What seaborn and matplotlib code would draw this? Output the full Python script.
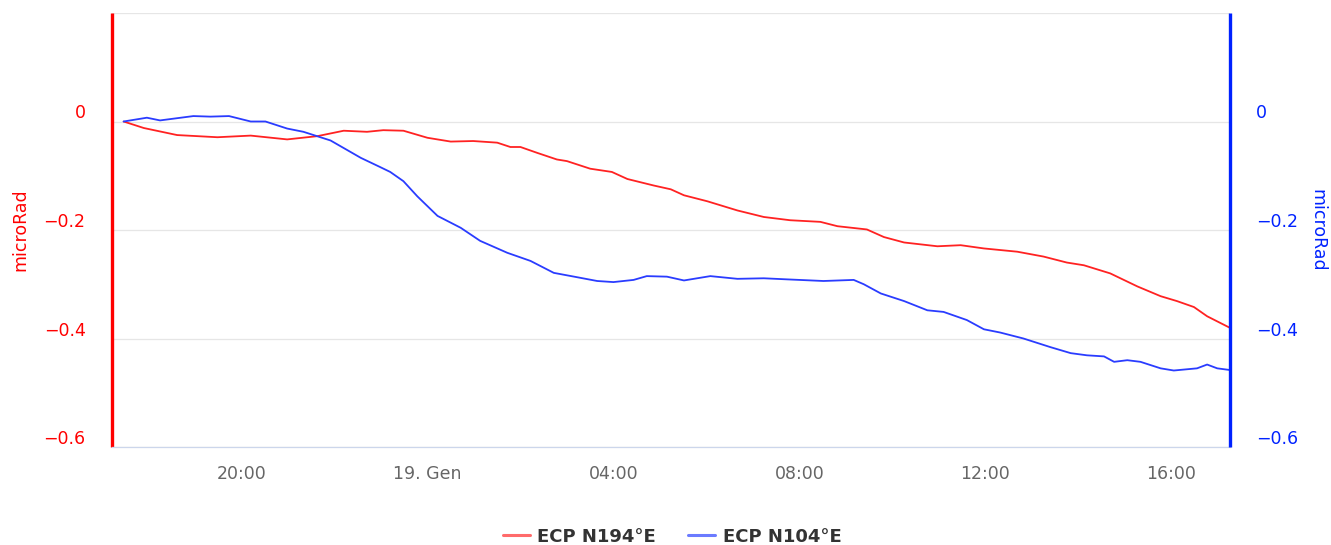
import matplotlib.pyplot as plt
import matplotlib.transforms as mtransforms
from matplotlib.lines import Line2D
import pandas as pd
import seaborn as sns

sns.set_style("white")
plt.rcParams['font.family'] = ['DejaVu Sans']

# ECP N194°E (left axis, red)
red_time = ["18 17:28", "18 17:54", "18 18:37", "18 19:29", "18 20:12", "18 20:59", "18 21:38",
            "18 22:12", "18 22:42", "18 23:03", "18 23:29", "19 00:00", "19 00:30", "19 00:59",
            "19 01:30", "19 01:47", "19 02:00", "19 02:22", "19 02:47", "19 03:00", "19 03:30",
            "19 03:58", "19 04:18", "19 04:52", "19 05:14", "19 05:31", "19 06:01", "19 06:40",
            "19 07:14", "19 07:48", "19 08:27", "19 08:49", "19 09:27", "19 09:49", "19 10:15",
            "19 10:58", "19 11:28", "19 11:58", "19 12:41", "19 13:15", "19 13:45", "19 14:07",
            "19 14:41", "19 15:16", "19 15:46", "19 16:07", "19 16:29", "19 16:46", "19 17:15"]
red_val = [0, -0.012, -0.025, -0.029, -0.026, -0.033, -0.027,
           -0.017, -0.019, -0.016, -0.017, -0.030, -0.037, -0.036,
           -0.039, -0.047, -0.047, -0.058, -0.070, -0.073, -0.087,
           -0.093, -0.106, -0.118, -0.125, -0.136, -0.147, -0.164,
           -0.176, -0.182, -0.185, -0.193, -0.199, -0.213, -0.223,
           -0.230, -0.228, -0.234, -0.240, -0.249, -0.260, -0.265,
           -0.280, -0.304, -0.322, -0.331, -0.342, -0.359, -0.380]

# ECP N104°E (right axis, blue)
blue_time = ["18 17:28", "18 17:58", "18 18:15", "18 18:58", "18 19:20", "18 19:44", "18 20:12",
             "18 20:31", "18 20:59", "18 21:20", "18 21:55", "18 22:34", "18 22:59", "18 23:12",
             "18 23:29", "18 23:47", "19 00:13", "19 00:43", "19 01:08", "19 01:43", "19 02:13",
             "19 02:43", "19 03:13", "19 03:39", "19 04:00", "19 04:26", "19 04:43", "19 05:09",
             "19 05:31", "19 06:05", "19 06:40", "19 07:14", "19 07:44", "19 08:31", "19 09:10",
             "19 09:23", "19 09:45", "19 10:15", "19 10:45", "19 11:06", "19 11:28", "19 11:36",
             "19 11:58", "19 12:19", "19 12:49", "19 13:24", "19 13:50", "19 14:11", "19 14:33",
             "19 14:46", "19 15:03", "19 15:20", "19 15:46", "19 16:03", "19 16:33", "19 16:46",
             "19 16:59", "19 17:15"]
blue_val = [0, 0.007, 0.002, 0.010, 0.009, 0.010, 0,
            0, -0.013, -0.019, -0.035, -0.067, -0.084, -0.093,
            -0.110, -0.138, -0.174, -0.196, -0.220, -0.242, -0.257,
            -0.279, -0.287, -0.294, -0.296, -0.292, -0.285, -0.286,
            -0.293, -0.285, -0.290, -0.289, -0.291, -0.294, -0.292,
            -0.300, -0.317, -0.331, -0.348, -0.351, -0.362, -0.366,
            -0.383, -0.389, -0.400, -0.416, -0.427, -0.431, -0.433,
            -0.443, -0.440, -0.443, -0.455, -0.459, -0.455, -0.448,
            -0.455, -0.458]

tick_times = ["18 20:00", "19 00:00", "19 04:00", "19 08:00", "19 12:00", "19 16:00"]
tick_labels = ["20:00", "19. Gen", "04:00", "08:00", "12:00", "16:00"]
y_ticks = [0.2, 0, -0.2, -0.4, -0.6]
y_labels = ["", "0", "\u22120.2", "\u22120.4", "\u22120.6"]


def to_dt(lst):
    return pd.to_datetime(["2021-01-" + s for s in lst])


red_df = pd.DataFrame({"time": to_dt(red_time), "val": red_val})
blue_df = pd.DataFrame({"time": to_dt(blue_time), "val": blue_val})

RED = "#ff0000"
BLUE = "#0022ff"

fig = plt.figure(figsize=(13.31, 5.45), dpi=100)
ax = fig.add_axes([112 / 1331, 1 - 447 / 545, (1229.6 - 112) / 1331, 434 / 545])
ax2 = ax.twinx()

sns.lineplot(data=red_df, x="time", y="val", ax=ax, color="#ff2222", linewidth=1.3)
sns.lineplot(data=blue_df, x="time", y="val", ax=ax2, color="#2a3cff", linewidth=1.3)

for a in (ax, ax2):
    a.set_ylim(-0.6, 0.2)
    a.set_yticks(y_ticks)
    a.set_xlabel("")
    for s in a.spines.values():
        s.set_visible(False)

ax.set_xlim(pd.Timestamp("2021-01-18 17:13"), pd.Timestamp("2021-01-19 17:15"))
ax.set_xticks(to_dt(tick_times))
ax.set_xticklabels(tick_labels)
ax.tick_params(axis="x", length=11, width=0.8, color="#ccd6eb", pad=2,
               labelsize=12.5, labelcolor="#666666")
ax.spines["bottom"].set_visible(True)
ax.spines["bottom"].set_color("#ccd6eb")
ax.spines["bottom"].set_linewidth(0.9)
ax.spines["left"].set_visible(True)
ax.spines["left"].set_color(RED)
ax.spines["left"].set_linewidth(2.4)
ax.spines["left"].set_capstyle("butt")
ax2.spines["right"].set_visible(True)
ax2.spines["right"].set_color(BLUE)
ax2.spines["right"].set_linewidth(2.4)
ax2.spines["right"].set_capstyle("butt")

ax.grid(axis="y", color="#e6e6e6", linewidth=0.9)
ax.grid(axis="x", visible=False)
ax.set_axisbelow(True)

ax.set_yticklabels(y_labels)
ax2.set_yticklabels(y_labels)
ax.tick_params(axis="y", length=0, pad=19, labelsize=12.5, labelcolor=RED)
ax2.tick_params(axis="y", length=0, pad=19, labelsize=12.5, labelcolor=BLUE)

shift = mtransforms.ScaledTranslation(0, 0.1, fig.dpi_scale_trans)
for lab in ax.get_yticklabels() + ax2.get_yticklabels():
    lab.set_transform(lab.get_transform() + shift)

ax.set_ylabel("microRad", color=RED, fontsize=12.5, va="center")
ax.yaxis.set_label_coords((20 - 112) / 1117.6, 0.5)
ax2.set_ylabel("microRad", color=BLUE, fontsize=12.5, rotation=270, va="center")
ax2.yaxis.set_label_coords((1317 - 112) / 1117.6, 0.5)

handles = [Line2D([], [], color="#ff6b6b", linewidth=2.2),
           Line2D([], [], color="#6b7bff", linewidth=2.2)]
fig.legend(handles, ["ECP N194°E", "ECP N104°E"], loc="lower center",
           bbox_to_anchor=(0.505, -0.031), ncol=2, frameon=False,
           handlelength=1.5, handletextpad=0.4, columnspacing=1.8,
           prop={"family": ["Liberation Sans Narrow", "DejaVu Sans"],
                 "weight": "bold", "size": 13})
for t in fig.legends[0].get_texts():
    t.set_color("#333333")

fig.savefig("out.png", dpi=100)
